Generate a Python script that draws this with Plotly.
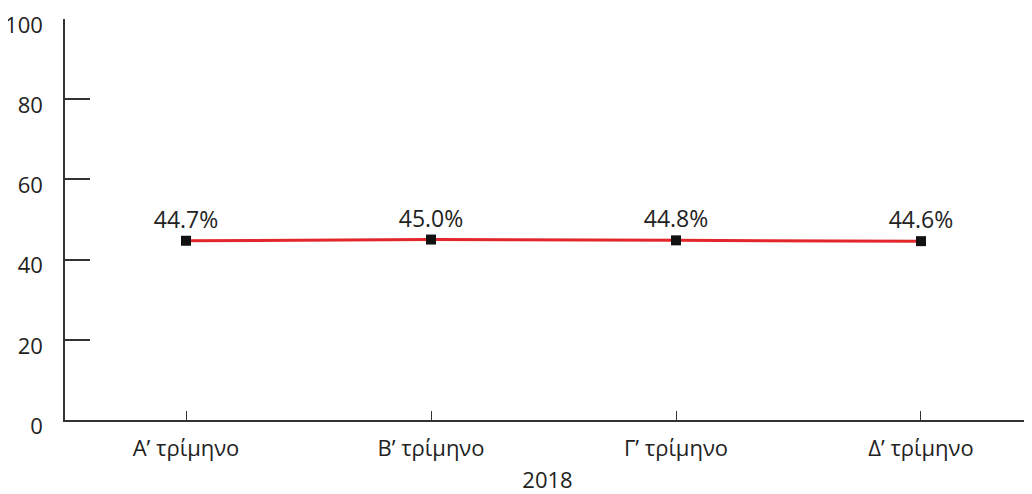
import plotly.graph_objects as go

categories = ["Α\u2019 τρίμηνο", "Β\u2019 τρίμηνο", "Γ\u2019 τρίμηνο", "Δ\u2019 τρίμηνο"]
values = [44.7, 45.0, 44.8, 44.6]
labels = ["44.7%", "45.0%", "44.8%", "44.6%"]
y_ticks = [0, 20, 40, 60, 80, 100]
x_title = "2018"

font_family = "Open Sans, Noto Sans, sans-serif"

fig = go.Figure()
fig.add_trace(go.Scatter(
    x=categories, y=values, mode="lines+markers+text",
    line=dict(color="#e3262b", width=3),
    marker=dict(symbol="square", size=10, color="#111111"),
    text=labels, textposition="top center",
    textfont=dict(size=23, color="#222222", family=font_family),
    cliponaxis=False, showlegend=False,
))

# page body has an 8px margin; offsets compensate
fig.update_layout(
    width=1024, height=486,
    margin=dict(l=57, r=2, t=11, b=74),
    paper_bgcolor="white", plot_bgcolor="white",
    font=dict(family=font_family, size=22, color="#222222"),
    xaxis=dict(
        range=[-0.494, 3.445],
        showgrid=False, zeroline=False, automargin=False,
        showline=True, linecolor="#333333", linewidth=1.5,
        ticks="inside", ticklen=9, tickwidth=1.2, tickcolor="#333333",
        title=dict(text=x_title, font=dict(size=22), standoff=14),
        tickfont=dict(size=22), ticklabelstandoff=8,
    ),
    yaxis=dict(
        range=[0, 100], tickvals=y_ticks,
        showgrid=False, zeroline=False, automargin=False,
        showline=True, linecolor="#333333", linewidth=1.5,
        ticks="inside", ticklen=25, tickwidth=1.5, tickcolor="#333333",
        tickfont=dict(size=22), ticklabelstandoff=16,
        ticklabelshift=6, ticklabeloverflow="allow",
    ),
)

fig.write_html("out.html")
